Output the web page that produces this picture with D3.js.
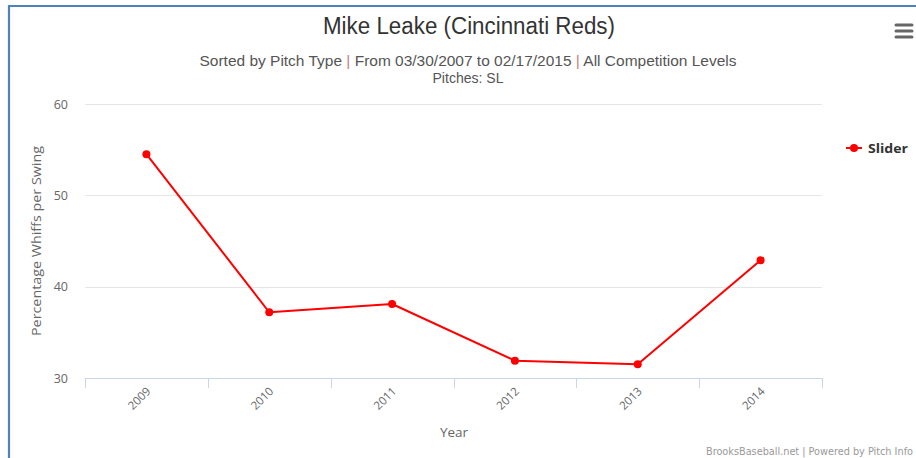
<!DOCTYPE html>
<html><head><meta charset="utf-8">
<script src="https://cdn.jsdelivr.net/npm/d3@7/dist/d3.min.js"></script>
<style>
html,body{margin:0;padding:0;background:#fff;}
svg{display:block;}
text{font-family:"Liberation Sans Narrow","DejaVu Sans Condensed","Liberation Sans",Arial,sans-serif;}
</style></head>
<body>
<script>
const years = ["2009","2010","2011","2012","2013","2014"];
const sliderValues = [54.5, 37.2, 38.1, 31.9, 31.5, 42.9];
const yTicks = [30, 40, 50, 60];
const seriesName = "Slider";
const titleText = "Mike Leake (Cincinnati Reds)";
const subtitleParts = ["Sorted by Pitch Type ", "|", " From 03/30/2007 to 02/17/2015 ", "|", " All Competition Levels"];
const subtitle2 = "Pitches: SL";

(function(){
const W = 916, H = 458;
const svg = d3.select("body").append("svg").attr("width", W).attr("height", H);

// frame border
svg.append("path").attr("d", `M9,458 V6 H916`).attr("fill","none")
  .attr("stroke","#4f81bd").attr("stroke-width",2.2);

const pL = 85, pR = 822, pT = 104, pB = 378;
const x = d3.scaleBand().domain(years).range([pL, pR]);
const y = d3.scaleLinear().domain([30, 60]).range([pB, pT]);
const sans = "'Open Sans','Liberation Sans',Arial,sans-serif";

// gridlines
svg.append("g").selectAll("line").data(yTicks.filter(t => t !== 30)).join("line")
  .attr("x1", pL).attr("x2", pR)
  .attr("y1", d => Math.round(y(d))+0.5).attr("y2", d => Math.round(y(d))+0.5)
  .attr("stroke", "#e6e6e6").attr("stroke-width", 1);

// y axis labels
svg.append("g").selectAll("text").data(yTicks).join("text")
  .attr("x", 68).attr("y", d => y(d) + 4.5)
  .attr("text-anchor", "end").attr("fill", "#666").attr("font-size", 12.5)
  .style("font-family", sans)
  .text(d => d);

// x axis
const xAxis = d3.axisBottom(x).tickSize(0).tickFormat("");
const gx = svg.append("g").attr("transform", `translate(0,${pB})`).call(xAxis);
gx.select(".domain").attr("stroke", "#ccd6eb").attr("stroke-width", 1.2).attr("d", `M${pL},0.5H${pR}`);
// tick marks at band edges
const edges = years.map(d => x(d)).concat([x(years[years.length-1]) + x.bandwidth()]);
svg.append("g").selectAll("line").data(edges).join("line")
  .attr("x1", d => Math.round(d)+0.5).attr("x2", d => Math.round(d)+0.5)
  .attr("y1", pB).attr("y2", pB + 10)
  .attr("stroke", "#ccd6eb").attr("stroke-width", 1);

// x labels rotated
svg.append("g").selectAll("text").data(years).join("text")
  .attr("transform", d => `translate(${x(d) + x.bandwidth()/2 + 5},${pB + 14}) rotate(-45)`)
  .attr("text-anchor", "end").attr("fill", "#666").attr("font-size", 11.5)
  .style("font-family", sans)
  .text(d => d);

// axis titles
svg.append("text").attr("x", 454).attr("y", 437).attr("text-anchor", "middle")
  .attr("fill", "#666").attr("font-size", 13.5)
  .style("font-family", sans).text("Year");
svg.append("text").attr("transform", `translate(41,${(pT+pB)/2}) rotate(-90)`)
  .attr("text-anchor", "middle").attr("fill", "#666").attr("font-size", 13)
  .attr("textLength", 190).attr("lengthAdjust", "spacingAndGlyphs")
  .style("font-family", sans)
  .text("Percentage Whiffs per Swing");

// line
const data = years.map((d, i) => ({year: d, v: sliderValues[i]}));
const line = d3.line().x(d => x(d.year) + x.bandwidth()/2).y(d => y(d.v));
svg.append("path").datum(data).attr("d", line).attr("fill", "none")
  .attr("stroke", "#ff0000").attr("stroke-width", 2).attr("stroke-linejoin","round");
svg.append("g").selectAll("circle").data(data).join("circle")
  .attr("cx", d => x(d.year) + x.bandwidth()/2).attr("cy", d => y(d.v)).attr("r", 4)
  .attr("fill", "#ff0000");

// title
svg.append("text").attr("x", 469).attr("y", 34).attr("text-anchor", "middle")
  .attr("fill", "#333").attr("font-size", 23)
  .attr("textLength", 292).attr("lengthAdjust", "spacingAndGlyphs")
  .style("font-family", "'Liberation Sans',Arial,sans-serif")
  .text(titleText);

// subtitle
const st = svg.append("text").attr("x", 468).attr("y", 66).attr("text-anchor", "middle")
  .attr("fill", "#555").attr("font-size", 15)
  .attr("textLength", 537).attr("lengthAdjust", "spacingAndGlyphs")
  .style("font-family", "'Liberation Sans',Arial,sans-serif");
st.selectAll("tspan").data(subtitleParts).join("tspan")
  .attr("fill", d => d === "|" ? "#c08080" : "#555").text(d => d);
svg.append("text").attr("x", 468).attr("y", 83).attr("text-anchor", "middle")
  .attr("fill", "#555").attr("font-size", 15)
  .attr("textLength", 71).attr("lengthAdjust", "spacingAndGlyphs")
  .style("font-family", "'Liberation Sans',Arial,sans-serif")
  .text(subtitle2);

// legend
const lg = svg.append("g");
lg.append("line").attr("x1", 846).attr("x2", 862).attr("y1", 148).attr("y2", 148)
  .attr("stroke", "#ff0000").attr("stroke-width", 2);
lg.append("circle").attr("cx", 854).attr("cy", 148).attr("r", 4).attr("fill", "#ff0000");
lg.append("text").attr("x", 868).attr("y", 152.5).attr("fill", "#333")
  .attr("font-size", 13).attr("font-weight", "bold")
  .attr("textLength", 40).attr("lengthAdjust", "spacingAndGlyphs")
  .style("font-family", sans).text(seriesName);

// menu icon
svg.append("g").selectAll("line").data([25, 31, 37]).join("line")
  .attr("x1", 896).attr("x2", 912).attr("y1", d => d).attr("y2", d => d)
  .attr("stroke", "#666").attr("stroke-width", 3).attr("stroke-linecap", "round");

// credits
svg.append("text").attr("x", 913).attr("y", 455).attr("text-anchor", "end")
  .attr("fill", "#999").attr("font-size", 10)
  .attr("textLength", 207).attr("lengthAdjust", "spacingAndGlyphs")
  .text("BrooksBaseball.net | Powered by Pitch Info");
})();
</script>
</body></html>
